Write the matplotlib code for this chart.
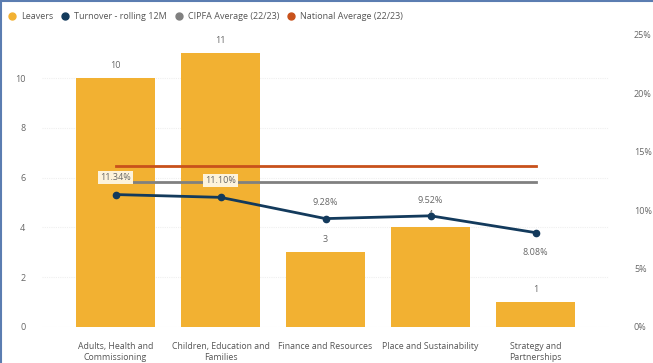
import matplotlib.pyplot as plt
from matplotlib.lines import Line2D

# data
departments = ["Adults, Health and\nCommissioning", "Children, Education and\nFamilies",
               "Finance and Resources", "Place and Sustainability", "Strategy and\nPartnerships"]
leavers = [10, 11, 3, 4, 1]
turnover = [11.34, 11.10, 9.28, 9.52, 8.08]  # rolling 12M, %
cipfa_avg = 12.4
national_avg = 13.8

bar_col = "#F2B132"
line_col = "#133A5C"
cipfa_col = "#808080"
nat_col = "#C8511B"
txt_col = "#666666"

plt.rcParams['font.family'] = ['Open Sans', 'DejaVu Sans']

fig = plt.figure(figsize=(6.53, 3.63), dpi=100)
ax = fig.add_axes([42 / 653, 36 / 363, 567 / 653, 292 / 363])
ax2 = ax.twinx()

x = list(range(len(departments)))
bars = ax.bar(x, leavers, width=0.76, color=bar_col, zorder=2)
for xi, v in zip(x, leavers):
    ax.annotate(str(v), (xi, v), xytext=(0, 6), textcoords="offset points",
                ha="center", va="bottom", fontsize=6.5, color=txt_col)

ax.set_xlim(-0.7, 4.7)
ax.set_ylim(0, 11.73)
ax.set_yticks([0, 2, 4, 6, 8, 10])
ax.grid(axis="y", color="#EFEFEF", linewidth=0.8, linestyle=(0, (1, 1)), zorder=0)
ax.set_axisbelow(True)

ax2.set_ylim(0, 25)
ax2.set_yticks([0, 5, 10, 15, 20, 25])
ax2.set_yticklabels([f"{t}%" for t in [0, 5, 10, 15, 20, 25]])

ax2.plot([0, 4], [national_avg, national_avg], color=nat_col, lw=2, zorder=3)
ax2.plot([0, 4], [cipfa_avg, cipfa_avg], color=cipfa_col, lw=2, zorder=3)
ax2.plot(x, turnover, color=line_col, lw=2, marker="o", markersize=4.5, zorder=4)

offsets = [(0, 9), (0, 9), (0, 8), (0, 8), (0, -11)]
boxed = [True, True, False, False, False]
for xi, v, off, b in zip(x, turnover, offsets, boxed):
    kw = {}
    if b:
        kw["bbox"] = dict(boxstyle="square,pad=0.25", fc="#FDF3DC", ec="none")
    ax2.annotate(f"{v:.2f}%", (xi, v), xytext=off, textcoords="offset points",
                 ha="center", va="bottom" if off[1] > 0 else "top",
                 fontsize=6.5, color=txt_col, zorder=5, **kw)

for a in (ax, ax2):
    for s in a.spines.values():
        s.set_visible(False)
    a.tick_params(length=0, labelsize=6.5, labelcolor=txt_col)

ax.set_xticks(x)
ax.set_xticklabels(departments, fontsize=6.3, color="#555555")
ax.tick_params(axis="x", pad=11)
ax.tick_params(axis="y", pad=12)
ax2.tick_params(axis="y", pad=18)

handles = [Line2D([], [], marker="o", ls="", color=c, markersize=5)
           for c in (bar_col, line_col, cipfa_col, nat_col)]
labels = ["Leavers", "Turnover - rolling 12M", "CIPFA Average (22/23)", "National Average (22/23)"]
fig.legend(handles, labels, loc="upper left", bbox_to_anchor=(-0.005, 0.985), ncol=4,
           frameon=False, fontsize=6.5, handletextpad=0.0, columnspacing=0.3,
           labelcolor="#555555", borderaxespad=0.3)

# frame edges seen on the left and top of the visual
fig.add_artist(Line2D([0.002, 0.002], [0, 1], transform=fig.transFigure, color="#5B7DB1", lw=1.5))
fig.add_artist(Line2D([0, 1], [0.997, 0.997], transform=fig.transFigure, color="#5B7DB1", lw=1.5))

fig.savefig("out.png", dpi=100)
